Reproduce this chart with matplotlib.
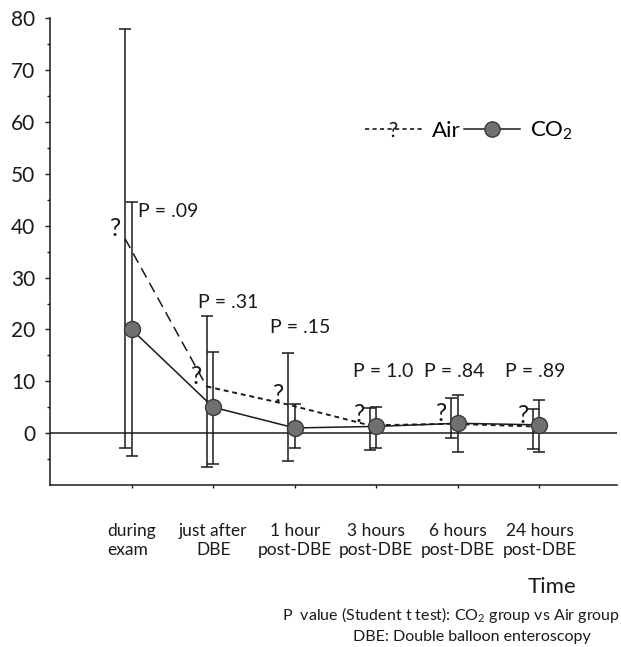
import matplotlib
matplotlib.use('Agg')
import matplotlib.pyplot as plt
from matplotlib.lines import Line2D
import numpy as np

plt.rcParams['font.family'] = ['Lato', 'DejaVu Sans']
plt.rcParams['mathtext.fontset'] = 'custom'
plt.rcParams['mathtext.rm'] = 'Lato'
plt.rcParams['mathtext.it'] = 'Lato:italic'

# data
categories = ['during\nexam', 'just after\nDBE', '1 hour\npost-DBE',
              '3 hours\npost-DBE', '6 hours\npost-DBE', '24 hours\npost-DBE']
air_mean = [37.5, 9.0, 5.5, 1.5, 1.8, 1.3]
air_upper = [78.0, 22.5, 15.5, 4.8, 6.8, 4.6]
air_lower = [-2.8, -6.6, -5.3, -3.2, -1.0, -3.1]
co2_mean = [20.0, 5.0, 1.0, 1.3, 1.9, 1.6]
co2_upper = [44.5, 15.7, 5.6, 5.1, 7.3, 6.3]
co2_lower = [-4.4, -5.9, -2.9, -2.9, -3.6, -3.6]
p_labels = ['P = .09', 'P = .31', 'P = .15', 'P = 1.0', 'P = .84', 'P = .89']

# where the p-value texts sit
p_x = [1.45, 2.18, 3.07, 4.09, 4.96, 5.95]
p_y = [42.8, 25.2, 20.3, 11.9, 11.9, 11.9]

x = np.arange(1, len(categories) + 1)
x_air = x - 0.08
air_mean = np.array(air_mean)
co2_mean = np.array(co2_mean)
air_err = [air_mean - np.array(air_lower), np.array(air_upper) - air_mean]
co2_err = [co2_mean - np.array(co2_lower), np.array(co2_upper) - co2_mean]

fig = plt.figure(figsize=(6.21, 6.47), dpi=100)
ax = fig.add_axes([50 / 621, 1 - 485 / 647, 567 / 621, (485 - 18.3) / 647])

ink = '#1a1a1a'
ax.axhline(0, color=ink, lw=1.1, zorder=1)

# error bars
ax.errorbar(x_air, air_mean, yerr=air_err, fmt='none', ecolor=ink,
            elinewidth=1.1, capsize=4, capthick=1.1, zorder=2)
ax.errorbar(x, co2_mean, yerr=co2_err, fmt='none', ecolor=ink,
            elinewidth=1.1, capsize=4, capthick=1.1, zorder=2)

# air line: long dashes on first segment, short after
ax.plot(x_air[:2], air_mean[:2], color=ink, lw=1.1, ls=(0, (7, 4)), zorder=3)
ax.plot(x_air[1:], air_mean[1:], color=ink, lw=1.4, ls=(0, (2.5, 2)), zorder=3)
for xi, yi in zip(x_air, air_mean):
    ax.annotate('?', (xi, yi), xytext=(-7, 7.5), textcoords='offset points',
                ha='center', va='center', fontsize=18, color=ink)

# CO2 line
ax.plot(x, co2_mean, color=ink, lw=1.1, marker='o', ms=11.5,
        mfc='#707070', mec='#3a3a3a', mew=1, zorder=4)

for px, py, t in zip(p_x, p_y, p_labels):
    ax.text(px, py, t, ha='center', va='center', fontsize=14, color=ink)

ax.set_xlim(0, 6.95)
ax.set_ylim(-10, 80)
ax.set_yticks(range(0, 81, 10))
ax.set_yticks([v for v in range(-5, 80, 10)], minor=True)
ax.set_xticks(x)
ax.set_xticklabels(categories, fontsize=12.5, linespacing=1.25)
ax.get_xticklabels()[0].set_multialignment('left')
ax.tick_params(axis='y', labelsize=15, length=3.5, width=1, pad=7, colors=ink)
ax.tick_params(axis='y', which='minor', length=2, width=1, colors=ink)
ax.tick_params(axis='x', length=2.5, width=1, pad=25, colors=ink)

for s in ['top', 'right']:
    ax.spines[s].set_visible(False)
for s in ['left', 'bottom']:
    ax.spines[s].set_color(ink)
    ax.spines[s].set_linewidth(1.1)

handles = [
    Line2D([], [], color=ink, lw=1.2, ls=(0, (2.5, 2)),
           marker=r'$\mathregular{?}$', ms=11, mew=0),
    Line2D([], [], color=ink, lw=1.1, marker='o', ms=11,
           mfc='#707070', mec='#3a3a3a'),
]
ax.legend(handles, ['Air', r'CO$_\mathregular{2}$'], loc='center left',
          bbox_to_anchor=(3.86, 58.3), bbox_transform=ax.transData,
          ncol=2, frameon=False, fontsize=16, handlelength=2.55,
          handletextpad=0.45, columnspacing=0.15, borderpad=0, borderaxespad=0)

fig.text(552 / 621, 1 - 587 / 647, 'Time', ha='center', va='center',
         fontsize=16, color=ink)
fig.text(0.998, 1 - 615 / 647,
         r'P  value (Student t test): CO$_\mathregular{2}$ group vs Air group',
         ha='right', va='center', fontsize=11.5, color=ink)
fig.text(471.5 / 621, 1 - 637 / 647, 'DBE: Double balloon enteroscopy',
         ha='center', va='center', fontsize=11.5, color=ink)

fig.savefig('out.png', dpi=100)
